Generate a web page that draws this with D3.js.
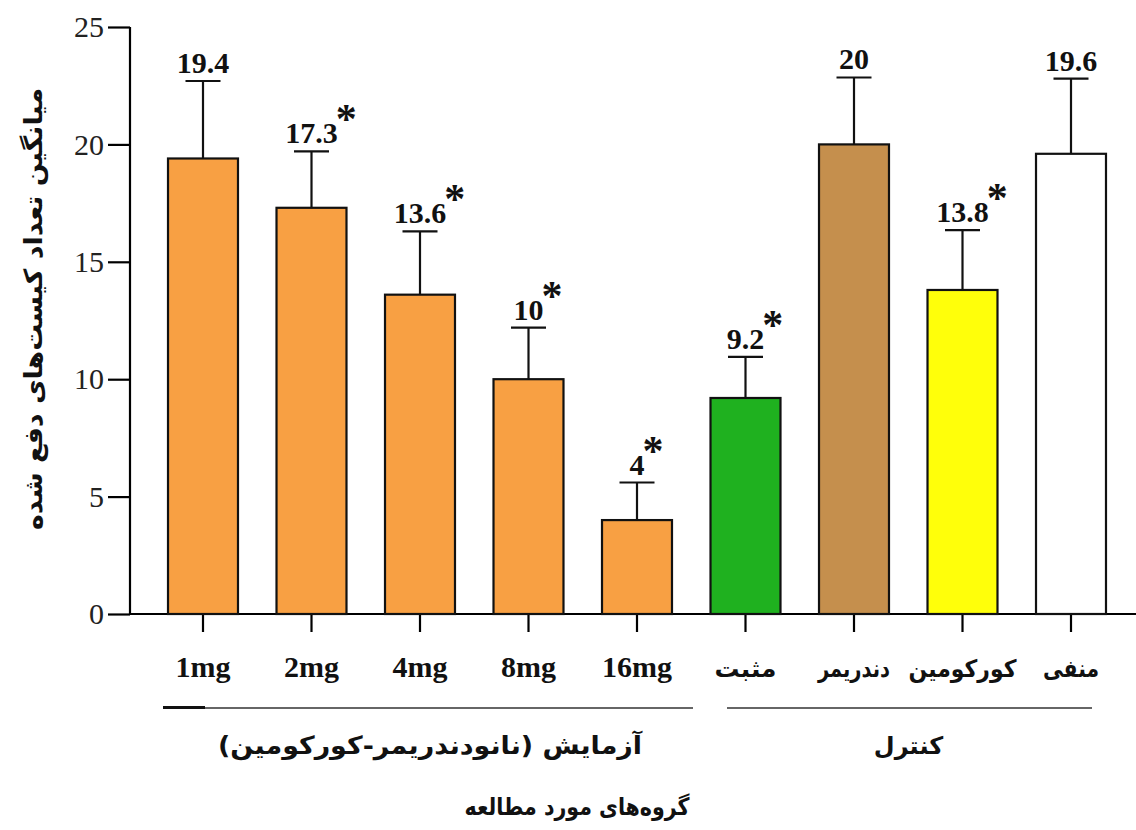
<!DOCTYPE html>
<html>
<head>
<meta charset="utf-8">
<script src="https://cdn.jsdelivr.net/npm/d3@7"></script>
<style>
  html, body { margin: 0; padding: 0; background: #fff; }
  svg { display: block; }
</style>
</head>
<body>
<script>
// Mean number of expelled cysts per study group
const categories = ["1mg", "2mg", "4mg", "8mg", "16mg", "مثبت", "دندریمر", "کورکومین", "منفی"];
const means      = [19.4, 17.3, 13.6, 10, 4, 9.2, 20, 13.8, 19.6];
const errors     = [3.3, 2.4, 2.7, 2.2, 1.6, 1.75, 2.85, 2.55, 3.2];
const labels     = ["19.4", "17.3", "13.6", "10", "4", "9.2", "20", "13.8", "19.6"];
const significant = [false, true, true, true, true, true, false, true, false];
const colors     = ["#F8A043", "#F8A043", "#F8A043", "#F8A043", "#F8A043", "#1FB11F", "#C58F4D", "#FFFF0A", "#FFFFFF"];
const yTicks     = [0, 5, 10, 15, 20, 25];
const groups = [
  { name: "آزمایش (نانودندریمر-کورکومین)", from: "1mg", to: "16mg" },
  { name: "کنترل", from: "مثبت", to: "منفی" }
];
const yTitle = "میانگین تعداد کیست‌های دفع شده";
const xTitle = "گروه‌های مورد مطالعه";

const W = 1136, H = 830;
const svg = d3.select("body").append("svg").attr("width", W).attr("height", H);

const serif = "'Liberation Serif', 'DejaVu Serif', serif";
const arabic = "'DejaVu Sans', sans-serif";

const x = d3.scaleBand().domain(categories).range([148.75, 1125.25]).paddingInner(0.355).paddingOuter(0.1775);
const y = d3.scaleLinear().domain([0, 25]).range([614, 27]);

// Y axis
const yAxis = svg.append("g").attr("transform", "translate(130,0)")
  .call(d3.axisLeft(y).tickValues(yTicks).tickSize(22).tickPadding(4));
yAxis.select(".domain").attr("stroke", "#000").attr("stroke-width", 2.2).attr("d", `M0,${y(25)}V${y(0)}`);
yAxis.selectAll(".tick line").attr("stroke", "#000").attr("stroke-width", 2.2);
yAxis.selectAll(".tick text").attr("font-family", serif).attr("font-size", 30).attr("fill", "#222");

// X axis baseline and ticks
const xAxis = svg.append("g").attr("transform", `translate(0,${y(0)})`)
  .call(d3.axisBottom(x).tickSize(18).tickFormat(""));
xAxis.select(".domain").attr("stroke", "#000").attr("stroke-width", 2.2).attr("d", `M130,0H1136`);
xAxis.selectAll(".tick line").attr("stroke", "#000").attr("stroke-width", 2.2);

// Category labels (Persian names fitted to a fixed width each)
const persianWidths = { "مثبت": 62, "دندریمر": 72, "کورکومین": 108, "منفی": 56 };
svg.append("g").selectAll("text").data(categories).join("text")
  .attr("x", d => x(d) + x.bandwidth() / 2)
  .attr("y", 677)
  .attr("text-anchor", "middle")
  .attr("font-family", (d, i) => i < 5 ? serif : arabic)
  .attr("font-weight", "bold")
  .attr("font-size", (d, i) => i < 5 ? 30 : 24)
  .attr("fill", "#111")
  .each(function (d, i) {
    if (i >= 5) d3.select(this).attr("textLength", persianWidths[d]).attr("lengthAdjust", "spacingAndGlyphs");
  })
  .text(d => d);

// Bars
svg.append("g").selectAll("rect").data(categories).join("rect")
  .attr("x", d => x(d))
  .attr("y", (d, i) => y(means[i]))
  .attr("width", x.bandwidth())
  .attr("height", (d, i) => y(0) - y(means[i]))
  .attr("fill", (d, i) => colors[i])
  .attr("stroke", "#111")
  .attr("stroke-width", 2.2);

// Error bars (upper only)
const eb = svg.append("g").attr("stroke", "#111").attr("stroke-width", 2.2);
categories.forEach((c, i) => {
  const cx = x(c) + x.bandwidth() / 2;
  const top = y(means[i] + errors[i]);
  eb.append("line").attr("x1", cx).attr("x2", cx).attr("y1", y(means[i])).attr("y2", top);
  eb.append("line").attr("x1", cx - 17.5).attr("x2", cx + 17.5).attr("y1", top).attr("y2", top);
});

// Value labels and significance marks
const vl = svg.append("g");
categories.forEach((c, i) => {
  const cx = x(c) + x.bandwidth() / 2;
  const top = y(means[i] + errors[i]);
  const base = top - 8;
  const t = vl.append("text")
    .attr("x", cx).attr("y", base)
    .attr("text-anchor", "middle")
    .attr("font-family", serif).attr("font-weight", "bold").attr("font-size", 30)
    .attr("fill", "#111")
    .text(labels[i]);
  if (significant[i]) {
    const w = t.node().getComputedTextLength();
    vl.append("text")
      .attr("x", cx + w / 2 - 2).attr("y", base - 10)
      .attr("font-family", serif).attr("font-weight", "bold").attr("font-size", 42)
      .attr("fill", "#111")
      .text("*");
  }
});

// Group brackets and labels
const gg = svg.append("g");
const extents = [[163, 693], [727, 1092]];
groups.forEach((g, k) => {
  const [x0, x1] = extents[k];
  gg.append("line").attr("x1", x0).attr("x2", x1).attr("y1", 708).attr("y2", 708)
    .attr("stroke", "#333").attr("stroke-width", 1.3);
  const mid = (x0 + x1) / 2 + (k === 0 ? 2 : -1);
  const t = gg.append("text").attr("x", mid).attr("y", 754).attr("text-anchor", "middle")
    .attr("font-family", arabic).attr("font-weight", "bold").attr("font-size", k === 0 ? 25 : 24)
    .attr("fill", "#111")
    .text(g.name);
  if (k === 0) t.attr("textLength", 424).attr("lengthAdjust", "spacingAndGlyphs");
});
gg.append("line").attr("x1", 163).attr("x2", 205).attr("y1", 707.5).attr("y2", 707.5)
  .attr("stroke", "#111").attr("stroke-width", 3);

// Axis titles
svg.append("text").attr("x", 577).attr("y", 815).attr("text-anchor", "middle")
  .attr("font-family", arabic).attr("font-weight", "bold").attr("font-size", 24)
  .attr("fill", "#111")
  .attr("textLength", 225).attr("lengthAdjust", "spacingAndGlyphs")
  .text(xTitle);
svg.append("text").attr("transform", "translate(42,309) rotate(-90)")
  .attr("text-anchor", "middle")
  .attr("font-family", arabic).attr("font-weight", "bold").attr("font-size", 25)
  .attr("fill", "#111")
  .attr("textLength", 442).attr("lengthAdjust", "spacingAndGlyphs")
  .text(yTitle);
</script>
</body>
</html>
